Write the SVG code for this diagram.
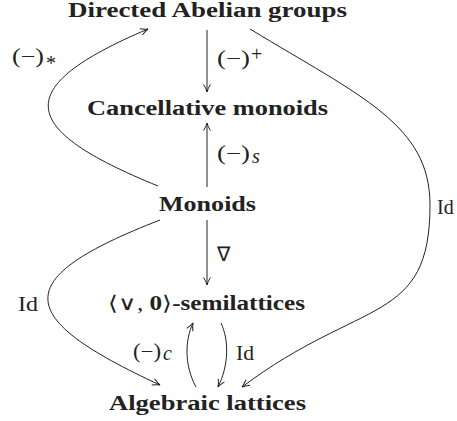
<svg xmlns="http://www.w3.org/2000/svg" width="457" height="421" viewBox="0 0 457 421">
<style>
.node{font-family:"Liberation Serif","Times New Roman",serif;font-weight:bold;font-size:20px;fill:#222}
.lbl{font-family:"Liberation Serif","Times New Roman",serif;font-size:20px;fill:#222}
.it{font-style:italic}
.edge{fill:none;stroke:#222;stroke-width:1;marker-end:url(#ah)}
</style>
<defs>
<marker id="ah" markerUnits="userSpaceOnUse" markerWidth="12" markerHeight="12" viewBox="-9 -6 12 12" refX="0" refY="0" orient="auto" overflow="visible">
<path d="M-7.5,-3.4 Q-3,-0.7 0,0 Q-3,0.7 -7.5,3.4" fill="none" stroke="#222" stroke-width="1"/>
</marker>
</defs>
<rect width="457" height="421" fill="#fff"/>
<g id="n-dag"><text class="node" x="68" y="17" textLength="279" lengthAdjust="spacingAndGlyphs">Directed Abelian groups</text></g>
<g id="n-cm"><text class="node" x="87" y="115" textLength="241" lengthAdjust="spacingAndGlyphs">Cancellative monoids</text></g>
<g id="n-mon"><text class="node" x="159" y="211" textLength="97" lengthAdjust="spacingAndGlyphs">Monoids</text></g>
<g id="n-sl"><text class="node" x="108" y="310" textLength="197" lengthAdjust="spacingAndGlyphs"><tspan font-weight="normal">⟨∨, </tspan>0<tspan font-weight="normal">⟩</tspan>-semilattices</text></g>
<g id="n-al"><text class="node" x="109" y="410" textLength="197" lengthAdjust="spacingAndGlyphs">Algebraic lattices</text></g>
<g id="connectors">
<path class="edge" d="M207,30 L207,92"/>
<path class="edge" d="M207,187 L207,123"/>
<path class="edge" d="M207,220 L207,285"/>
<path class="edge" d="M158,186 C18,129 9,88 148,29"/>
<path class="edge" d="M250,29 C362,97 430,125 430,205 C430,325 362,297 242,387"/>
<path class="edge" d="M160,220 C8,279 13,317 160,385"/>
<path class="edge" d="M196,387 C184,365 185,340 193,323"/>
<path class="edge" d="M221,323 C229,340 229,365 218,387"/>
</g>
<g id="labels">
<g id="l-star"><text class="lbl" x="12" y="63" textLength="32" lengthAdjust="spacingAndGlyphs">(−)</text><text class="lbl" x="46" y="70" font-size="15">*</text></g>
<g id="l-plus"><text class="lbl" x="217" y="65" textLength="33" lengthAdjust="spacingAndGlyphs">(−)</text><text class="lbl" x="251" y="61" font-size="15">+</text></g>
<g id="l-s"><text class="lbl" x="217" y="160" textLength="33" lengthAdjust="spacingAndGlyphs">(−)</text><text class="lbl it" x="252" y="163" font-size="14">s</text></g>
<g id="l-nabla"><text class="lbl" x="217" y="261">∇</text></g>
<g id="l-id-r"><text class="lbl" x="437" y="214">Id</text></g>
<g id="l-id-l"><text class="lbl" x="18" y="311" textLength="20" lengthAdjust="spacingAndGlyphs">Id</text></g>
<g id="l-c"><text class="lbl" x="133" y="358" textLength="28" lengthAdjust="spacingAndGlyphs">(−)</text><text class="lbl it" x="163" y="360" font-size="15">c</text></g>
<g id="l-id-m"><text class="lbl" x="236" y="360" textLength="18" lengthAdjust="spacingAndGlyphs">Id</text></g>
</g>
</svg>
